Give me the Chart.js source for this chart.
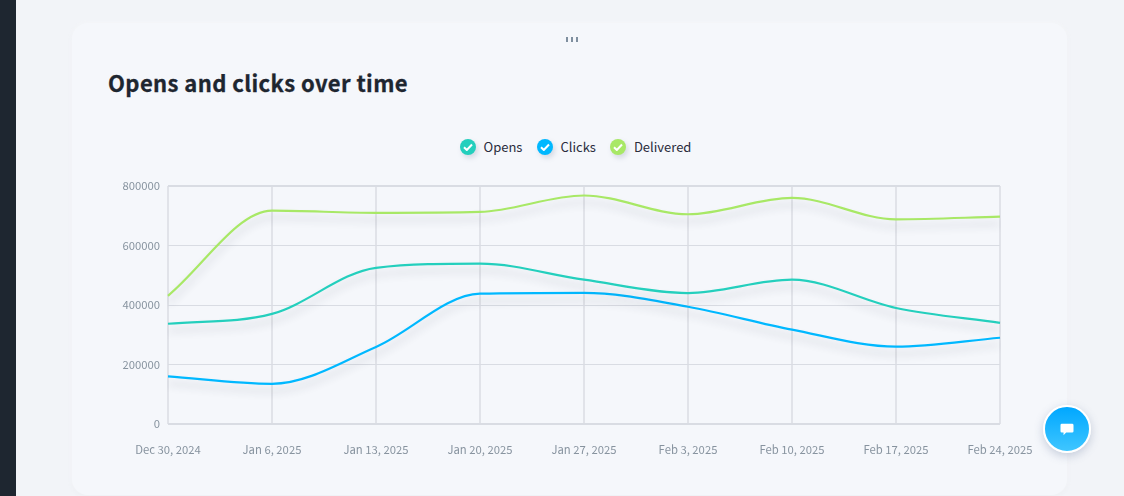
<!DOCTYPE html>
<html>
<head>
<meta charset="utf-8">
<title>Opens and clicks over time</title>
<script src="https://cdn.jsdelivr.net/npm/chart.js@4"></script>
<style>
  html, body { margin: 0; padding: 0; width: 1124px; height: 496px; overflow: hidden; background: #f2f4f8; font-family: "Noto Sans CJK SC", "Noto Sans", sans-serif; }
  #sidebar { position: absolute; left: 0; top: 0; width: 16px; height: 496px; background: #1e2630; }
  #card { position: absolute; left: 72px; top: 23px; width: 995px; height: 472px; background: #f5f7fb; border-radius: 16px; box-shadow: 0 0 5px rgba(255,255,255,.8), 0 1px 4px rgba(160,170,190,.18); }
  #grip { position: absolute; left: 566px; top: 37px; width: 12px; height: 5px; display: flex; justify-content: space-between; }
  #grip i { display: block; width: 2px; height: 5px; background: #7f8f9f; }
  #title { position: absolute; left: 108px; top: 65px; margin: 0; font-size: 22px; letter-spacing: .4px; line-height: 34px; font-weight: 700; color: #1e2630; -webkit-text-stroke: .3px #1e2630; }
  #legend { position: absolute; left: 460px; top: 136px; height: 22px; display: flex; align-items: center; font-size: 13px; color: #2a2c3c; }
  #legend .item { display: flex; align-items: center; margin-right: 14.500px; }
  #legend .item b { font-weight: 400; position: relative; top: -1px; }
  #legend .dot { width: 16px; height: 16px; border-radius: 50%; margin-right: 7.500px; display: flex; align-items: center; justify-content: center; box-shadow: 2px 3px 5px rgba(120,130,160,.25); }
  #wrap { position: absolute; left: 100px; top: 170px; width: 960px; height: 300px; }
  #chat { position: absolute; left: 1043px; top: 405px; width: 44px; height: 44px; border: 2px solid #fff; border-radius: 50%; background: linear-gradient(#00a7ff, #3fc6ff); box-shadow: 0 3px 10px rgba(90,110,150,.3); display: flex; align-items: center; justify-content: center; }
</style>
</head>
<body>
<div id="sidebar"></div>
<div id="card"></div>
<div id="grip"><i></i><i></i><i></i></div>
<h1 id="title">Opens and clicks over time</h1>
<div id="legend"></div>
<div id="wrap"><canvas id="myChart"></canvas></div>
<div id="chat">
  <svg width="14" height="13" viewBox="0 0 16 15"><path fill="#fff" d="M2 1h12a1.5 1.5 0 0 1 1.500 1.500v7A1.500 1.500 0 0 1 14 11H7l-3 3v-3H2A1.500 1.500 0 0 1 .5 9.500v-7A1.500 1.500 0 0 1 2 1z"/></svg>
</div>

<script>
  var categories = ["Dec 30, 2024", "Jan 6, 2025", "Jan 13, 2025", "Jan 20, 2025", "Jan 27, 2025", "Feb 3, 2025", "Feb 10, 2025", "Feb 17, 2025", "Feb 24, 2025"];
  var opens = [337000, 370000, 525000, 539000, 485000, 440000, 485000, 390000, 340000];
  var clicks = [160000, 135000, 259000, 438000, 441000, 394000, 317000, 260000, 290000];
  var delivered = [431000, 717000, 710000, 713000, 768000, 705000, 760000, 688000, 697000];
  var seriesNames = ["Opens", "Clicks", "Delivered"];
  var seriesColors = ["#24cfbd", "#00b8ff", "#a8e866"];

  // fill the legend
  seriesNames.forEach(function(name, i){
    var item = '<div class="item"><span class="dot" style="background:' + seriesColors[i] + '">' +
      '<svg width="10" height="8" viewBox="0 0 10 8"><path d="M1 4.200 3.800 7 9 1.500" fill="none" stroke="#fff" stroke-width="2"/></svg>' +
      '</span><b>' + name + '</b></div>';
    document.getElementById("legend").insertAdjacentHTML("beforeend", item);
  });

  // soft shadow under each line
  var lineShadow = {
    id: "lineShadow",
    beforeDatasetDraw: function(chart){
      var ctx = chart.ctx;
      ctx.save();
      ctx.shadowColor = "rgba(40,50,70,.2)";
      ctx.shadowBlur = 8;
      ctx.shadowOffsetY = 7;
    },
    afterDatasetDraw: function(chart){
      chart.ctx.restore();
    }
  };

  var tickFont = { family: "'Noto Sans CJK SC', 'Noto Sans', sans-serif", size: 11.3 };
  var values = [opens, clicks, delivered];

  var ctx = document.getElementById("myChart").getContext("2d");
  var myChart = new Chart(ctx, {
    type: "line",
    data: {
      labels: categories,
      datasets: seriesNames.map(function(name, i){
        return {
          label: name,
          data: values[i],
          borderColor: seriesColors[i],
          backgroundColor: seriesColors[i],
          borderWidth: 2.2,
          cubicInterpolationMode: "monotone",
          pointRadius: 0,
          fill: false
        };
      })
    },
    plugins: [lineShadow],
    options: {
      responsive: true,
      maintainAspectRatio: false,
      animation: false,
      layout: { padding: { top: 16, right: 60, left: 0, bottom: 0 } },
      plugins: { legend: { display: false }, title: { display: false }, tooltip: { enabled: true } },
      scales: {
        x: {
          afterFit: function(scale){ scale.height = 46; },
          border: { display: false },
          grid: { color: "#e1e3e9", lineWidth: 2, drawTicks: false },
          ticks: { color: "#87939f", font: tickFont, padding: 19, autoSkip: false, maxRotation: 0 }
        },
        y: {
          min: 0,
          max: 800000,
          afterFit: function(scale){ scale.width = 68; },
          border: { display: false },
          grid: {
            color: "#d9dce3",
            drawTicks: false,
            lineWidth: function(c){ return (c.tick.value === 0 || c.tick.value === 800000) ? 2 : 1; }
          },
          ticks: {
            color: "#87939f",
            font: tickFont,
            padding: 8,
            stepSize: 200000,
            callback: function(v){ return String(v); }
          }
        }
      }
    }
  });
</script>
</body>
</html>
